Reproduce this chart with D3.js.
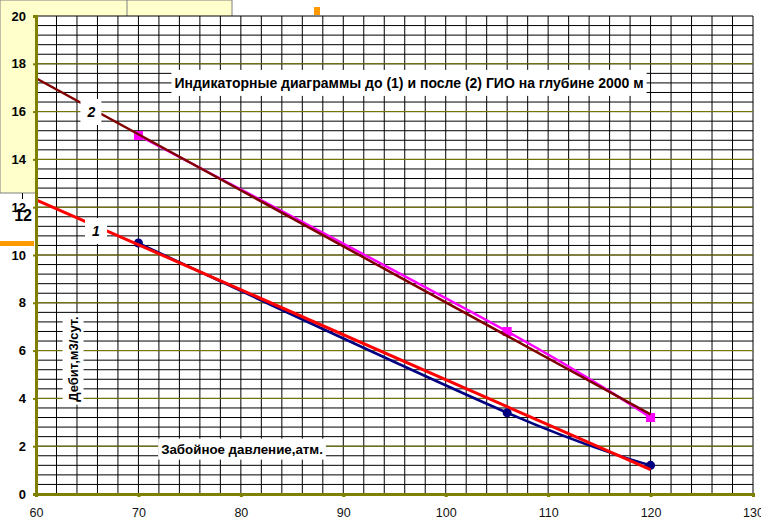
<!DOCTYPE html>
<html>
<head>
<meta charset="utf-8">
<script src="https://cdn.jsdelivr.net/npm/d3@7"></script>
<style>
body { margin: 0; background: #fff; }
text { font-family: Arial, "Liberation Sans", sans-serif; }
</style>
</head>
<body>
<svg id="chart"></svg>
<script>
// data
const pressure = [70, 106, 120];
const debitBefore = [10.5, 3.4, 1.2];   // series 1
const debitAfter = [15.0, 6.8, 3.2];    // series 2
const xTicks = [60, 70, 80, 90, 100, 110, 120, 130];
const yTicks = [0, 2, 4, 6, 8, 10, 12, 14, 16, 18, 20];
const title = "Индикаторные диаграммы до (1) и после (2) ГИО на глубине 2000 м";
const xTitle = "Забойное давление,атм.";
const yTitle = "Дебит,м3/сут.";

const W = 761, H = 522;
const svg = d3.select("#chart").attr("width", W).attr("height", H);

const x = d3.scaleLinear().domain([60, 130]).range([36, 753]);
const y = d3.scaleLinear().domain([0, 20]).range([494, 16]);

// leftover piece of another chart under this one (pale yellow)
svg.append("rect").attr("x", 0).attr("y", 0).attr("width", 232).attr("height", 193)
    .attr("fill", "#ffffcc").attr("stroke", "#808080").attr("stroke-width", 1);
svg.append("line").attr("x1", 127).attr("x2", 127).attr("y1", 0).attr("y2", 16)
    .attr("stroke", "#808080");

// plot area
svg.append("rect").attr("x", 36).attr("y", 16).attr("width", 717).attr("height", 478)
    .attr("fill", "#fff");

// minor horizontal grid every 0.4
svg.append("g").selectAll("line")
    .data(d3.range(0.4, 20.01, 0.4))
    .enter().append("line")
    .attr("x1", 36).attr("x2", 753)
    .attr("y1", d => y(d)).attr("y2", d => y(d))
    .attr("stroke", "#000").attr("stroke-width", 1);

// vertical grid every 2
svg.append("g").selectAll("line")
    .data(d3.range(62, 130.01, 2))
    .enter().append("line")
    .attr("x1", d => x(d)).attr("x2", d => x(d))
    .attr("y1", 16).attr("y2", 494)
    .attr("stroke", "#000").attr("stroke-width", 1);

// major horizontal grid (olive)
svg.append("g").selectAll("line")
    .data(yTicks.slice(1, -1))
    .enter().append("line")
    .attr("x1", 36).attr("x2", 753)
    .attr("y1", d => y(d)).attr("y2", d => y(d))
    .attr("stroke", "#808000").attr("stroke-width", 1);

// smoothed series lines
const lineFun = d3.line()
    .x(d => x(d[0]))
    .y(d => y(d[1]))
    .curve(d3.curveCardinal);

const s1 = pressure.map((p, i) => [p, debitBefore[i]]);
const s2 = pressure.map((p, i) => [p, debitAfter[i]]);

svg.append("path").attr("d", lineFun(s1))
    .attr("fill", "none").attr("stroke", "#000080").attr("stroke-width", 2.5);
svg.append("path").attr("d", lineFun(s2))
    .attr("fill", "none").attr("stroke", "#ff00ff").attr("stroke-width", 2.5);

svg.append("g").selectAll("circle")
    .data(s1).enter().append("circle")
    .attr("cx", d => x(d[0])).attr("cy", d => y(d[1])).attr("r", 4.5)
    .attr("fill", "#000080");
svg.append("g").selectAll("rect")
    .data(s2).enter().append("rect")
    .attr("x", d => x(d[0]) - 4.5).attr("y", d => y(d[1]) - 4.5)
    .attr("width", 9).attr("height", 9)
    .attr("fill", "#ff00ff");

// linear trendlines, forecast back to 60
function fit(xs, ys) {
    const mx = d3.mean(xs), my = d3.mean(ys);
    let sxy = 0, sxx = 0;
    xs.forEach((v, i) => { sxy += (v - mx) * (ys[i] - my); sxx += (v - mx) * (v - mx); });
    const b = sxy / sxx, a = my - b * mx;
    return [[60, a + b * 60], [120, a + b * 120]];
}
const straight = d3.line().x(d => x(d[0])).y(d => y(d[1]));
svg.append("path").attr("d", straight(fit(pressure, debitBefore)))
    .attr("fill", "none").attr("stroke", "#ff0000").attr("stroke-width", 3);
svg.append("path").attr("d", straight(fit(pressure, debitAfter)))
    .attr("fill", "none").attr("stroke", "#800000").attr("stroke-width", 2.5);

// axes
const yAxis = svg.append("g").attr("transform", "translate(36,0)")
    .call(d3.axisLeft(y).tickValues(yTicks).tickSize(3).tickPadding(7));
yAxis.select(".domain").attr("stroke", "#808000").attr("stroke-width", 3);
yAxis.selectAll(".tick line").attr("stroke", "#808000").attr("stroke-width", 2);
yAxis.selectAll("text").attr("font-size", 13).attr("font-weight", "bold").attr("fill", "#000")
    .style("font-family", "Arial, 'Liberation Sans', sans-serif");

const xAxis = svg.append("g").attr("transform", "translate(0,494)")
    .call(d3.axisBottom(x).tickValues(xTicks).tickSize(3).tickPadding(11));
xAxis.select(".domain").attr("stroke", "#808000").attr("stroke-width", 3);
xAxis.selectAll(".tick line").attr("stroke", "#808000").attr("stroke-width", 3);
xAxis.selectAll("text").attr("font-size", 12.5).attr("fill", "#111")
    .style("font-family", "Arial, 'Liberation Sans', sans-serif");

// text in white boxes
function boxedText(cx, cy, str, size, opts) {
    opts = opts || {};
    const g = svg.append("g").attr("transform", `translate(${cx},${cy}) rotate(${opts.rotate || 0})`);
    const r = g.append("rect").attr("fill", "#fff");
    const t = g.append("text").text(str)
        .attr("text-anchor", "middle").attr("dy", "0.35em")
        .attr("font-size", size).attr("font-weight", "bold")
        .attr("font-style", opts.italic ? "italic" : "normal")
        .attr("fill", "#000");
    const bb = t.node().getBBox();
    const px = opts.padX || 4, py = opts.padY || 4;
    r.attr("x", bb.x - px).attr("y", bb.y - py)
        .attr("width", bb.width + 2 * px).attr("height", bb.height + 2 * py);
}

boxedText(409, 83, title, 14, { padX: 3, padY: 5 });
boxedText(242, 449, xTitle, 13.3, { padX: 3, padY: 3 });
boxedText(73, 359, yTitle, 13, { rotate: -90, padX: 3, padY: 3 });
boxedText(x(65.4), y(15.98), "2", 14, { italic: true, padX: 6, padY: 5 });
boxedText(x(65.85), y(11.0), "1", 14, { italic: true, padX: 7, padY: 5 });

// bits of the other chart on top
svg.append("line").attr("x1", 22.5).attr("x2", 22.5).attr("y1", 193).attr("y2", 199)
    .attr("stroke", "#000");
svg.append("text").text("12").attr("x", 32).attr("y", 220.5)
    .attr("text-anchor", "end").attr("font-size", 16).attr("font-weight", "bold").attr("fill", "#000");
svg.append("rect").attr("x", 0).attr("y", 241).attr("width", 34).attr("height", 5)
    .attr("fill", "#ff9900");
svg.append("rect").attr("x", 314).attr("y", 7).attr("width", 6).attr("height", 8)
    .attr("fill", "#ff9900");
</script>
</body>
</html>
